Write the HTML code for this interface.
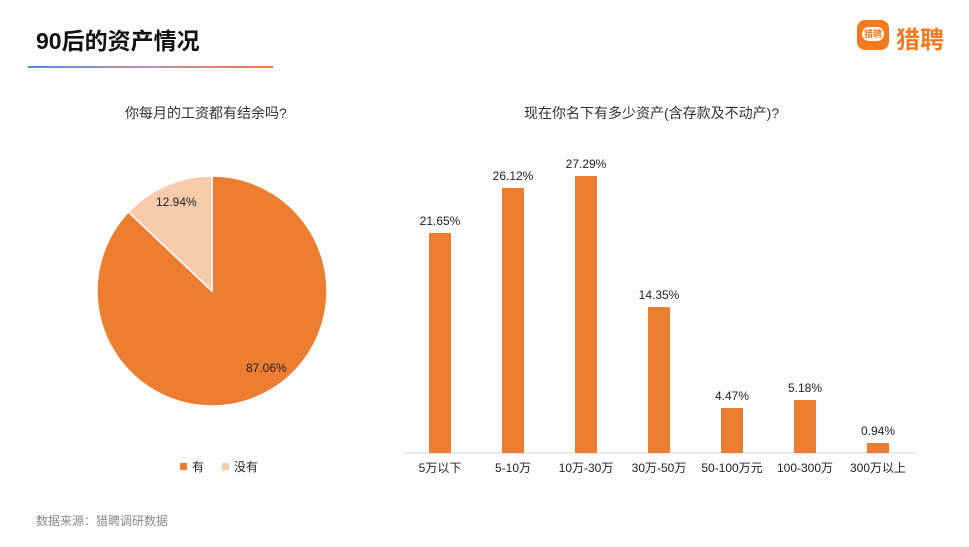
<!DOCTYPE html>
<html><head><meta charset="utf-8"><style>
body{margin:0;width:969px;height:547px;background:#fff;overflow:hidden;font-family:"Liberation Sans","Noto Sans CJK SC",sans-serif;position:relative}
.t{position:absolute;white-space:nowrap}
</style></head><body>
<div class="t" style="left:36px;top:22px;font-size:23px;font-weight:bold;color:#111">90后的资产情况</div>
<div style="position:absolute;left:28px;top:66px;width:245px;height:2px;background:linear-gradient(90deg,#4a8ee8,#c78fb0,#f07a3a)"></div>
<div style="position:absolute;left:857px;top:20px;width:32px;height:30px;background:#f47a20;border-radius:8px"></div>
<div style="position:absolute;left:862px;top:27px;width:22px;height:14px;background:#fff;border-radius:8px;font-size:9px;color:#f47a20;text-align:center;line-height:14px;font-weight:bold">猎聘</div>
<div class="t" style="left:896px;top:20px;font-size:24px;color:#f47a20;font-weight:bold">猎聘</div>
<div class="t" style="left:125px;top:103px;font-size:14px;color:#333">你每月的工资都有结余吗?</div>
<div class="t" style="left:524px;top:103px;font-size:14px;color:#333">现在你名下有多少资产(含存款及不动产)?</div>
<svg width="969" height="547" style="position:absolute;left:0;top:0" font-family="Liberation Sans, Noto Sans CJK SC, sans-serif" font-size="12" fill="#222">
<path d="M212,291 L212,176 A115,115 0 1 1 128.4,212 Z" fill="#ed7d31" stroke="#fff" stroke-width="1.5"/>
<path d="M212,291 L128.4,212 A115,115 0 0 1 212,176 Z" fill="#f8cbad" stroke="#fff" stroke-width="1.5"/>
<text x="156" y="206">12.94%</text>
<text x="246" y="372">87.06%</text>
<rect x="180" y="463" width="7" height="7" fill="#ed7d31"/><text x="192" y="471">有</text>
<rect x="222" y="463" width="7" height="7" fill="#f8cbad"/><text x="234" y="471">没有</text>
<line x1="404" y1="453" x2="915" y2="453" stroke="#d9d9d9"/>
<g fill="#ed7d31">
<rect x="429" y="233" width="22" height="220"/>
<rect x="502" y="188" width="22" height="265"/>
<rect x="575" y="176" width="22" height="277"/>
<rect x="648" y="307" width="22" height="146"/>
<rect x="721" y="408" width="22" height="45"/>
<rect x="794" y="400" width="22" height="53"/>
<rect x="867" y="443" width="22" height="10"/>
</g>
<g text-anchor="middle">
<text x="440" y="225">21.65%</text><text x="513" y="180">26.12%</text><text x="586" y="168">27.29%</text>
<text x="659" y="299">14.35%</text><text x="732" y="400">4.47%</text><text x="805" y="392">5.18%</text><text x="878" y="435">0.94%</text>
<text x="440" y="472">5万以下</text><text x="513" y="472">5-10万</text><text x="586" y="472">10万-30万</text>
<text x="659" y="472">30万-50万</text><text x="732" y="472">50-100万元</text><text x="805" y="472">100-300万</text><text x="878" y="472">300万以上</text>
</g>
<text x="36" y="525" fill="#888" font-size="12">数据来源：猎聘调研数据</text>
</svg>
</body></html>
